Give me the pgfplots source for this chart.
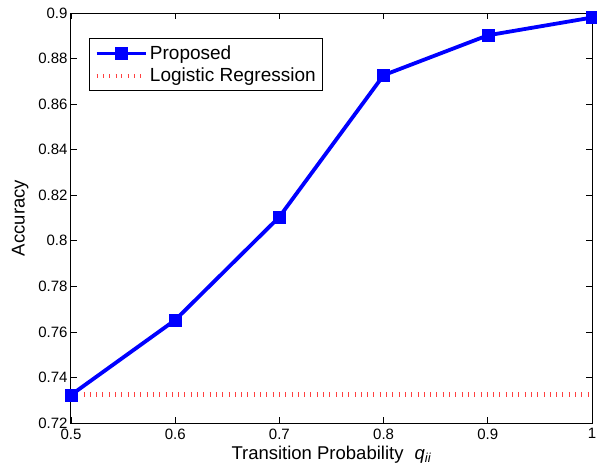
\documentclass[border=0pt]{standalone}
\usepackage{pgfplots}
\pgfplotsset{compat=1.18}
\usepackage{fontspec}
\setmainfont{Liberation Sans}
\definecolor{lrred}{rgb}{1,0.25,0.25}
\begin{document}
\begin{tikzpicture}
\begin{axis}[
  scale only axis,
  width=521pt, height=410pt,
  xmin=0.5, xmax=1, ymin=0.72, ymax=0.9,
  xtick={0.5,0.6,0.7,0.8,0.9,1},
  xticklabels={0.5,0.6,0.7,0.8,0.9,1},
  ytick={0.72,0.74,0.76,0.78,0.8,0.82,0.84,0.86,0.88,0.9},
  yticklabels={0.72,0.74,0.76,0.78,0.8,0.82,0.84,0.86,0.88,0.9},
  tick align=inside,
  tick pos=both,
  major tick length=6pt,
  tick style={black, line width=0.7pt},
  axis line style={black, line width=1pt},
  ticklabel style={font=\fontsize{15}{17}\selectfont},
  xticklabel style={yshift=-2pt},
  label style={font=\fontsize{18.5}{22}\selectfont},
  xlabel={Transition Probability\hspace{0.6em}\textit{q}\textsubscript{\textit{ii}}},
  ylabel={Accuracy},
  ylabel style={yshift=3pt},
  legend style={at={(0.0345,0.938)}, anchor=north west, draw=black, line width=1pt,
    font=\fontsize{19}{22}\selectfont, inner xsep=5pt, inner ysep=5pt, row sep=3pt},
  legend cell align=left,
  legend image code/.code={\draw[#1] (0pt,0pt) -- (24.5pt,0pt) (24.5pt,0pt) -- (49pt,0pt); \path[#1, solid] plot coordinates {(24.5pt,0pt)};},
]
\addplot[blue, line width=3.8pt, mark=square*, mark size=6pt, mark options={solid, line width=0.5pt}]
  coordinates {(0.5,0.7323) (0.6,0.7652) (0.7,0.8105) (0.8,0.8727) (0.9,0.8902) (1.0,0.8980)};
\addlegendentry{Proposed}
\addplot[lrred, line width=4.5pt, dash pattern=on 1pt off 5.3pt, mark=none]
  coordinates {(0.5,0.7325) (1.0,0.7325)};
\addlegendentry{Logistic Regression}
\coordinate (sw) at (rel axis cs:0,0);
\coordinate (ne) at (rel axis cs:1,1);
\end{axis}
\pgfresetboundingbox
\path ([shift={(-71pt,-49pt)}]sw) rectangle ([shift={(5pt,13pt)}]ne);
\end{tikzpicture}
\end{document}
